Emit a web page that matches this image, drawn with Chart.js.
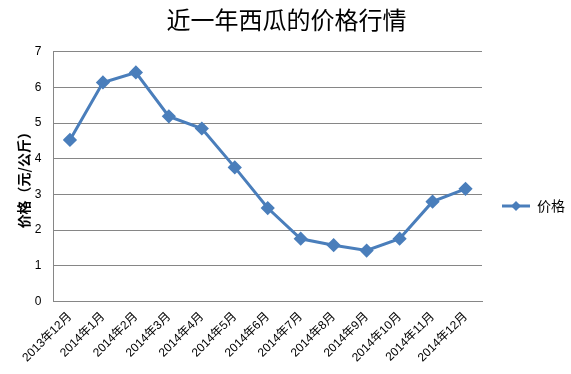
<!DOCTYPE html>
<html lang="zh">
<head>
  <meta charset="UTF-8">
  <title>近一年西瓜的价格行情</title>
  <script src="https://cdn.jsdelivr.net/npm/chart.js"></script>
  <style>
    html, body { margin: 0; padding: 0; background: #fff; }
    #wrap { width: 571px; height: 374px; }
  </style>
</head>
<body>
  <div id="wrap"><canvas id="priceChart"></canvas></div>
  <script>
    const months = ['2013年12月', '2014年1月', '2014年2月', '2014年3月', '2014年4月', '2014年5月',
      '2014年6月', '2014年7月', '2014年8月', '2014年9月', '2014年10月', '2014年11月', '2014年12月'];
    const prices = [4.53, 6.14, 6.42, 5.19, 4.85, 3.76, 2.62, 1.76, 1.58, 1.43, 1.76, 2.80, 3.16];
    const yTicks = [0, 1, 2, 3, 4, 5, 6, 7];

    const lineColor = '#4A7EBB';
    const fontFamily = '"Liberation Sans", "Noto Sans CJK SC", sans-serif';

    // legend sample: short line with a diamond in the middle
    const legendIcon = document.createElement('canvas');
    legendIcon.width = 28;
    legendIcon.height = 12;
    (function () {
      const c = legendIcon.getContext('2d');
      c.strokeStyle = lineColor;
      c.lineWidth = 3;
      c.beginPath();
      c.moveTo(0, 6);
      c.lineTo(28, 6);
      c.stroke();
      c.fillStyle = lineColor;
      c.beginPath();
      c.moveTo(14, 1);
      c.lineTo(19, 6);
      c.lineTo(14, 11);
      c.lineTo(9, 6);
      c.closePath();
      c.fill();
    })();

    // nudge the legend box so it sits where Excel put it
    const legendNudge = {
      id: 'legendNudge',
      afterLayout(chart) {
        const lg = chart.legend;
        if (!lg) return;
        lg.top += 34;
        lg.left += 12;
        lg.right += 12;
      }
    };

    const ctx = document.getElementById('priceChart').getContext('2d');
    new Chart(ctx, {
      type: 'line',
      data: {
        labels: months,
        datasets: [{
          label: '价格',
          data: prices,
          borderColor: lineColor,
          backgroundColor: lineColor,
          borderWidth: 3,
          pointStyle: 'rectRot',
          pointRadius: 5,
          pointHoverRadius: 5,
          tension: 0
        }]
      },
      plugins: [legendNudge],
      options: {
        responsive: true,
        maintainAspectRatio: false,
        animation: false,
        layout: { padding: { left: 10, right: 8, top: 5, bottom: 1 } },
        plugins: {
          title: {
            display: true,
            text: '近一年西瓜的价格行情',
            color: '#000',
            font: { family: '"Noto Sans CJK SC", sans-serif', size: 24, weight: 'normal' },
            padding: { top: 0, bottom: 18 }
          },
          legend: {
            position: 'right',
            labels: {
              usePointStyle: true,
              pointStyle: legendIcon,
              pointStyleWidth: 28,
              color: '#000',
              font: { family: '"Noto Sans CJK SC", sans-serif', size: 14 },
              padding: 8
            }
          },
          tooltip: { enabled: false }
        },
        scales: {
          x: {
            offset: true,
            grid: { display: false, drawTicks: false },
            border: { color: '#868686', width: 1 },
            ticks: {
              color: '#000',
              font: { family: fontFamily, size: 12 },
              minRotation: 45,
              maxRotation: 45,
              autoSkip: false,
              padding: 8
            }
          },
          y: {
            min: 0,
            max: 7,
            afterBuildTicks: axis => { axis.ticks = yTicks.map(v => ({ value: v })); },
            grid: { color: '#868686', drawTicks: false },
            border: { color: '#868686', width: 1 },
            ticks: {
              color: '#000',
              font: { family: fontFamily, size: 12 },
              padding: 12
            },
            title: {
              display: true,
              text: '价格（元/公斤）',
              color: '#000',
              font: { family: '"Noto Sans CJK SC", sans-serif', size: 14, weight: 'bold' },
              padding: { top: 5, bottom: -9 }
            }
          }
        }
      }
    });
  </script>
</body>
</html>
